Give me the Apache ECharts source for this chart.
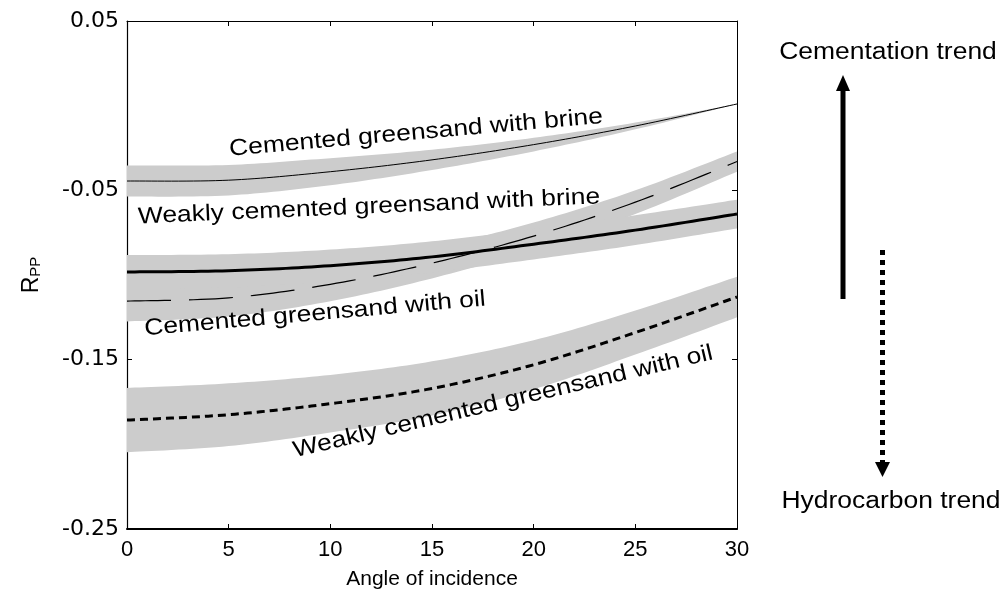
<!DOCTYPE html>
<html>
<head>
<meta charset="utf-8">
<script src="https://cdn.jsdelivr.net/npm/echarts@6/dist/echarts.min.js"></script>
<style>
  html, body { margin: 0; padding: 0; background: #fff; }
  #chart { width: 1004px; height: 599px; }
</style>
</head>
<body>
<div id="chart"></div>
<script>
// Angles of incidence (degrees)
const angles = [0, 5, 10, 15, 20, 25, 30];

// P-P reflection coefficient, mean curves
const cementedBrine = [-0.0445, -0.044, -0.039, -0.032, -0.023, -0.012, 0.001];
const weakBrine     = [-0.1154, -0.1135, -0.1055, -0.093, -0.077, -0.057, -0.033];
const cementedOil   = [-0.0982, -0.0975, -0.0945, -0.0893, -0.0818, -0.0735, -0.064];
const weakOil       = [-0.1857, -0.1825, -0.176, -0.167, -0.153, -0.134, -0.113];

// Half-width of the uncertainty band around each curve
const cementedBrineSpread = [0.0092, 0.009, 0.008, 0.006, 0.004, 0.002, 0.0];
const weakBrineSpread     = [0.012, 0.011, 0.010, 0.009, 0.008, 0.007, 0.006];
const cementedOilSpread   = [0.010, 0.0098, 0.0095, 0.0092, 0.009, 0.0088, 0.0085];
const weakOilSpread       = [0.019, 0.0185, 0.017, 0.016, 0.0145, 0.013, 0.012];

// Tick labels
const xTicks = [0, 5, 10, 15, 20, 25, 30];
const yTicks = [-0.25, -0.15, -0.05, 0.05];

// Curve captions
const captions = [
  'Cemented greensand with brine',
  'Weakly cemented greensand with brine',
  'Cemented greensand with oil',
  'Weakly cemented greensand with oil'
];

const FONT = 'Liberation Sans, Arial, Helvetica, sans-serif';
const BAND = '#cccccc';

// Smooth a run of projected points (Catmull-Rom in pixel space)
function smoothEdge(pts, steps) {
  const out = [pts[0]];
  for (let i = 0; i < pts.length - 1; i++) {
    const p0 = pts[i - 1] || pts[i], p1 = pts[i], p2 = pts[i + 1], p3 = pts[i + 2] || pts[i + 1];
    for (let s = 1; s <= steps; s++) {
      const t = s / steps, t2 = t * t, t3 = t2 * t;
      const f = (a, b, c, d) => 0.5 * ((2 * b) + (-a + c) * t + (2 * a - 5 * b + 4 * c - d) * t2 + (-a + 3 * b - 3 * c + d) * t3);
      out.push([f(p0[0], p1[0], p2[0], p3[0]), f(p0[1], p1[1], p2[1], p3[1])]);
    }
  }
  return out;
}

// Grey envelope: one filled shape between the upper and lower bounds
function bandSeries(mean, spread) {
  const upper = mean.map((m, i) => m + spread[i]);
  const lower = mean.map((m, i) => m - spread[i]);
  return {
    type: 'custom', silent: true, z: 1,
    data: angles.map((a, i) => [a, lower[i], upper[i]]),
    encode: { x: 0, y: [1, 2] },
    renderItem: function (params, api) {
      if (params.dataIndex !== 0) return null;
      const top = smoothEdge(angles.map((a, i) => api.coord([a, upper[i]])), 16);
      const bottom = smoothEdge(angles.map((a, i) => api.coord([a, lower[i]])), 16).reverse();
      return {
        type: 'polygon',
        shape: { points: top.concat(bottom) },
        style: { fill: BAND, stroke: null }
      };
    }
  };
}

// Mean curve drawn as one smooth stroke through its points
function curveSeries(vals, width, dash) {
  return {
    type: 'custom', silent: true, z: 3,
    data: angles.map((a, i) => [a, vals[i]]),
    encode: { x: 0, y: 1 },
    renderItem: function (params, api) {
      if (params.dataIndex !== 0) return null;
      const pts = smoothEdge(angles.map((a, i) => api.coord([a, vals[i]])), 16);
      return {
        type: 'polyline',
        shape: { points: pts },
        style: { stroke: '#000', lineWidth: width, fill: null, lineDash: dash || null, lineCap: 'butt', lineJoin: 'round' }
      };
    }
  };
}

function caption(text, x, y, deg) {
  return {
    type: 'text', x: x, y: y, rotation: deg * Math.PI / 180, scaleX: 1.15, z: 10,
    style: { text: text, font: '23px ' + FONT, fill: '#000', align: 'center', verticalAlign: 'middle' }
  };
}

const chart = echarts.init(document.getElementById('chart'), null, { renderer: 'canvas' });

chart.setOption({
  animation: false,
  backgroundColor: '#fff',
  grid: { left: 127, right: 267, top: 21, bottom: 70, outerBoundsMode: 'none', containLabel: false },
  xAxis: [
    {
      type: 'value', min: 0, max: 30, interval: 5, position: 'bottom',
      axisLine: { show: true, onZero: false, lineStyle: { color: '#000', width: 2 } },
      axisTick: { show: true, inside: true, length: 5, lineStyle: { color: '#000', width: 1 } },
      axisLabel: { color: '#000', fontSize: 22, fontFamily: FONT, margin: 10, customValues: xTicks },
      splitLine: { show: false },
      name: 'Angle of incidence', nameLocation: 'middle', nameGap: 40,
      nameTextStyle: { color: '#000', fontSize: 21, fontFamily: FONT }
    },
    {
      type: 'value', min: 0, max: 30, interval: 5, position: 'top',
      axisLine: { show: true, onZero: false, lineStyle: { color: '#000', width: 1 } },
      axisTick: { show: true, inside: true, length: 5, lineStyle: { color: '#000', width: 1 } },
      axisLabel: { show: false },
      splitLine: { show: false }
    }
  ],
  yAxis: [
    {
      type: 'value', min: -0.25, max: 0.05, position: 'left',
      axisLine: { show: true, onZero: false, lineStyle: { color: '#000', width: 1.2 } },
      axisTick: { show: true, inside: true, length: 5, customValues: yTicks, lineStyle: { color: '#000', width: 1 } },
      axisLabel: {
        customValues: yTicks, formatter: v => v.toFixed(2),
        color: '#000', fontSize: 22, fontFamily: 'DejaVu Sans, sans-serif', margin: 8
      },
      splitLine: { show: false },
      name: '{r|R}{s|PP}', nameLocation: 'middle', nameRotate: 90, nameGap: 84,
      nameTextStyle: {
        rich: {
          r: { fontSize: 23, fontFamily: FONT, color: '#000', lineHeight: 28, verticalAlign: 'bottom' },
          s: { fontSize: 15, fontFamily: FONT, color: '#000', lineHeight: 12, verticalAlign: 'bottom' }
        }
      }
    },
    {
      type: 'value', min: -0.25, max: 0.05, position: 'right',
      axisLine: { show: true, onZero: false, lineStyle: { color: '#000', width: 1 } },
      axisTick: { show: true, inside: true, length: 5, customValues: yTicks, lineStyle: { color: '#000', width: 1 } },
      axisLabel: { show: false },
      splitLine: { show: false }
    }
  ],
  series: [
    bandSeries(cementedBrine, cementedBrineSpread),
    bandSeries(weakBrine, weakBrineSpread),
    bandSeries(cementedOil, cementedOilSpread),
    bandSeries(weakOil, weakOilSpread),
    curveSeries(cementedBrine, 1),
    curveSeries(weakBrine, 1.2, [44, 18]),
    curveSeries(cementedOil, 3),
    curveSeries(weakOil, 3, [8, 5])
  ],
  graphic: [
    caption(captions[0], 416, 133, 5),
    caption(captions[1], 369, 207, 2.5),
    caption(captions[2], 315, 314, 5),
    caption(captions[3], 503, 402, 13.2),
    // trend arrows
    { type: 'text', x: 888, y: 53, scaleX: 1.15,
      style: { text: 'Cementation trend', font: '23px ' + FONT, fill: '#000', align: 'center', verticalAlign: 'middle' } },
    { type: 'line', shape: { x1: 843, y1: 299, x2: 843, y2: 88 },
      style: { stroke: '#000', lineWidth: 5 } },
    { type: 'polygon', shape: { points: [[843, 75], [836, 91], [850, 91]] },
      style: { fill: '#000' } },
    { type: 'line', shape: { x1: 882.5, y1: 250, x2: 882.5, y2: 462 },
      style: { stroke: '#000', lineWidth: 5, lineDash: [5, 5], lineCap: 'butt' } },
    { type: 'polygon', shape: { points: [[875, 462], [890, 462], [882.5, 477]] },
      style: { fill: '#000' } },
    { type: 'text', x: 891, y: 502, scaleX: 1.15,
      style: { text: 'Hydrocarbon trend', font: '23px ' + FONT, fill: '#000', align: 'center', verticalAlign: 'middle' } }
  ]
});
</script>
</body>
</html>
